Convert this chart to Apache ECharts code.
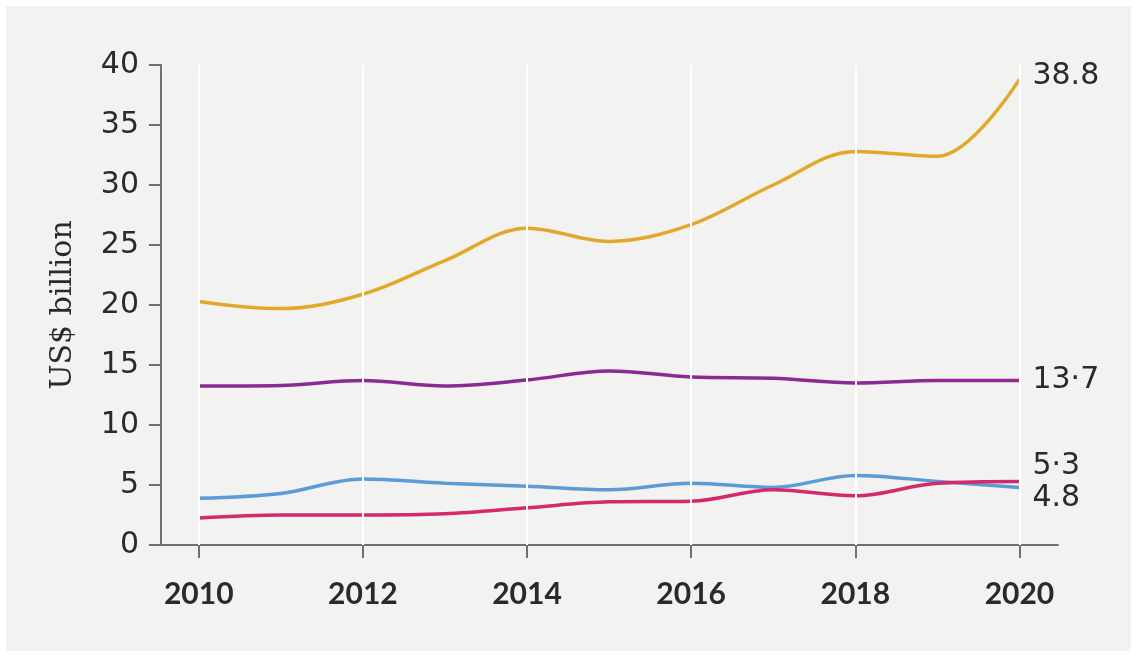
<!DOCTYPE html>
<html>
<head>
<meta charset="utf-8">
<script src="https://cdn.jsdelivr.net/npm/echarts@6/dist/echarts.min.js"></script>
<style>
html,body{margin:0;padding:0;background:#ffffff;width:1137px;height:657px;overflow:hidden;}
#chart{position:absolute;left:6px;top:6px;width:1125px;height:645px;background:#f2f2f1;}
</style>
</head>
<body>
<div id="chart"></div>
<script>
const years = [2010, 2011, 2012, 2013, 2014, 2015, 2016, 2017, 2018, 2019, 2020];
const tickYears = [2010, 2012, 2014, 2016, 2018, 2020];
const goldValues = [20.3, 19.7, 20.9, 23.7, 26.4, 25.3, 26.7, 30.0, 32.8, 32.4, 38.8];
const purpleValues = [13.25, 13.3, 13.7, 13.25, 13.75, 14.5, 14.0, 13.9, 13.5, 13.7, 13.7];
const blueValues = [3.9, 4.3, 5.5, 5.15, 4.9, 4.6, 5.15, 4.8, 5.8, 5.3, 4.8];
const pinkValues = [2.25, 2.5, 2.5, 2.6, 3.1, 3.6, 3.65, 4.6, 4.1, 5.15, 5.3];
const endLabels = { gold: '38.8', purple: '13·7', blue: '4.8', pink: '5·3' };
const yAxisName = 'US$ billion';

const pair = vals => years.map((y, i) => [y, vals[i]]);
const sans = '"DejaVu Sans", sans-serif';

function lineSeries(name, vals, color, label, offsetY) {
  return {
    name: name, type: 'line', smooth: 0.35, symbol: 'none', z: 3,
    data: pair(vals),
    lineStyle: { color: color, width: 3.5 },
    endLabel: {
      show: true, formatter: label, distance: 13, offset: [0, offsetY],
      color: '#2a2a2a', fontSize: 30, fontFamily: sans
    }
  };
}

const chart = echarts.init(document.getElementById('chart'));
chart.setOption({
  animation: false,
  backgroundColor: 'transparent',
  grid: { left: 155, top: 59, right: 73, bottom: 106 },
  xAxis: {
    type: 'value', min: 2009.54, max: 2020.47,
    axisLine: { show: true, lineStyle: { color: '#707070', width: 2 } },
    axisTick: { show: true, customValues: tickYears, length: 13, lineStyle: { color: '#707070', width: 2 } },
    axisLabel: { customValues: tickYears, formatter: v => String(v), margin: 34, color: '#2a2a2a', fontSize: 30, fontWeight: 700, fontFamily: 'Lato, sans-serif' },
    splitLine: { show: false }
  },
  yAxis: {
    type: 'value', min: 0, max: 40, interval: 5,
    name: yAxisName, nameLocation: 'middle', nameGap: 83, nameRotate: 90,
    nameTextStyle: { color: '#2a2a2a', fontSize: 30, fontFamily: '"DejaVu Serif", serif' },
    axisLine: { show: true, lineStyle: { color: '#707070', width: 2 } },
    axisTick: { show: true, length: 12, lineStyle: { color: '#707070', width: 2 } },
    axisLabel: { margin: 22, color: '#2a2a2a', fontSize: 30, fontFamily: sans },
    splitLine: { show: false }
  },
  series: [
    {
      type: 'line', data: [], z: 1, silent: true,
      markLine: {
        silent: true, symbol: 'none', label: { show: false },
        lineStyle: { color: '#ffffff', width: 2, type: 'solid' },
        data: tickYears.map(y => ({ xAxis: y }))
      }
    },
    lineSeries('gold', goldValues, '#e2a82c', endLabels.gold, -3),
    lineSeries('purple', purpleValues, '#8a2a92', endLabels.purple, 0),
    lineSeries('blue', blueValues, '#5d9ad8', endLabels.blue, 11),
    lineSeries('pink', pinkValues, '#d42a6c', endLabels.pink, -15)
  ]
});
</script>
</body>
</html>
